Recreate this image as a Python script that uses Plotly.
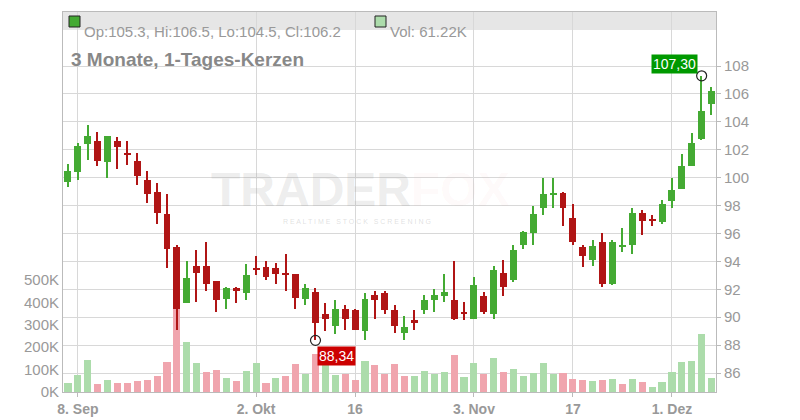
import plotly.graph_objects as go

opens  = [99.7,100.4,102.4,102.6,101.1,102.6,101.8,101.2,99.8,99.0,97.4,95.0,91.0,93.7,93.7,92.6,91.3,92.1,91.7,93.5,93.6,93.5,93.2,93.1,91.3,91.8,90.2,89.4,90.6,90.5,89.0,91.6,91.7,90.5,88.9,89.8,90.5,91.2,91.5,91.2,90.4,89.9,91.5,90.2,93.2,92.7,95.2,96.0,97.8,98.8,98.9,97.1,95.0,94.1,95.4,92.4,95.1,95.2,97.5,97.0,96.8,98.3,99.2,100.8,102.8,105.3]
highs  = [101.0,102.5,103.8,103.3,103.0,102.9,102.6,101.8,100.5,99.6,98.8,95.2,94.0,94.8,95.4,92.6,92.2,92.2,93.8,94.4,94.0,93.9,94.5,93.1,92.4,92.1,91.0,91.2,90.9,90.6,91.7,91.9,91.9,90.9,90.1,90.5,91.6,92.0,93.1,94.0,91.1,92.9,91.8,93.7,94.1,95.2,96.2,98.0,100.0,100.0,99.0,98.1,95.2,95.5,96.0,95.5,96.4,97.8,97.7,97.3,98.4,100.0,101.7,103.2,107.3,106.5]
lows   = [99.3,99.8,101.3,100.8,100.0,100.6,100.9,99.5,98.2,96.7,93.5,89.1,91.0,91.1,91.9,90.4,90.6,91.0,91.2,93.0,92.7,92.4,91.9,90.6,90.9,88.34,89.0,88.8,89.1,89.1,88.4,89.9,90.2,88.9,88.4,89.1,90.2,90.4,91.1,89.8,89.8,89.9,90.2,89.9,91.5,92.5,94.9,95.2,97.3,97.8,96.5,95.2,93.6,93.7,92.2,92.3,94.7,94.5,95.9,96.5,96.7,97.8,99.2,100.8,102.7,104.5]
closes = [100.5,102.3,103.0,101.2,103.0,102.2,101.6,100.1,98.8,97.5,94.9,90.6,92.8,93.2,92.4,91.2,92.1,91.9,93.0,93.4,92.9,93.1,93.05,91.4,92.1,89.6,89.9,90.6,89.9,89.1,91.3,91.2,90.5,89.4,89.3,89.6,91.2,91.6,91.8,89.9,90.2,92.3,90.4,93.4,92.2,94.8,96.1,97.4,98.8,98.9,97.8,95.4,94.4,95.1,92.4,95.4,95.2,97.5,96.9,96.9,98.1,99.1,100.8,102.5,104.8,106.2]
volumes_k = [42,77,143,37,54,42,42,49,54,73,134,375,223,129,89,98,63,49,94,129,40,63,73,125,82,170,130,77,82,54,138,120,82,125,73,73,94,82,91,165,68,129,82,153,91,104,73,86,129,82,86,59,54,50,54,59,37,59,46,24,46,91,135,139,260,61]
tick_idx = [1,19,29,41,51,61]
tick_labels = ["8. Sep","2. Okt","16","3. Nov","17","1. Dez"]
price_ticks = [86,88,90,92,94,96,98,100,102,104,106,108]
vol_ticks = [0,100,200,300,400,500]

G, R = "#44aa33", "#b01515"
VG, VR = "#acdcab", "#f0a5ae"
n = len(closes)
x = list(range(n))
vcol = [VG if i == 0 or closes[i] >= closes[i-1] else VR for i in range(n)]
up = [c >= o for o, c in zip(opens, closes)]
ccol = [G if u else R for u in up]
base = [min(o, c) for o, c in zip(opens, closes)]
hgt = [max(abs(c - o), 0.08) for o, c in zip(opens, closes)]

fig = go.Figure()
fig.add_trace(go.Bar(x=x, y=volumes_k, marker_color=vcol, marker_line_width=0, width=0.72, yaxis="y", hoverinfo="skip"))
fig.add_trace(go.Bar(x=x, y=[h - l for h, l in zip(highs, lows)], base=lows, width=0.14,
                     marker_color=ccol, marker_line_width=0, yaxis="y2", hoverinfo="skip"))
fig.add_trace(go.Bar(x=x, y=hgt, base=base, width=0.7, marker_color=ccol, marker_line_width=0, yaxis="y2", hoverinfo="skip"))
ih = highs.index(max(highs)); il = lows.index(min(lows))
fig.add_trace(go.Scatter(x=[ih, il], y=[highs[ih], lows[il]], mode="markers", yaxis="y2",
                         marker=dict(size=10, color="rgba(0,0,0,0)", line=dict(color="#222", width=1.2))))

fig.update_layout(
    width=800, height=420, showlegend=False, barmode="overlay", bargap=0,
    margin=dict(l=63, r=84, t=12, b=28, autoexpand=False),
    plot_bgcolor="white", paper_bgcolor="white",
    font=dict(family="Liberation Sans, Arial", color="#999"),
    xaxis=dict(range=[-0.5, 65.45], tickvals=tick_idx, ticktext=[f"<b>{t}</b>" for t in tick_labels], showgrid=True,
               gridcolor="#d8d8d8", zeroline=False, showline=True, linecolor="#bbb", mirror=True,
               ticks="outside", ticklen=4, tickcolor="#bbb", automargin=False,
               tickfont=dict(size=14, color="#999")),
    yaxis=dict(range=[0, 1696], tickvals=vol_ticks, ticktext=[f"{v}K" for v in vol_ticks], automargin=False,
               showgrid=False, zeroline=False, side="left", tickfont=dict(size=15, color="#999"), ticks="",
               showline=True, linecolor="#bbb"),
    yaxis2=dict(range=[84.64, 111.87], overlaying="y", side="right", tickvals=price_ticks, automargin=False,
                showgrid=True, gridcolor="#d8d8d8", zeroline=False, showline=True, linecolor="#bbb",
                ticks="outside", ticklen=4, tickcolor="#bbb", tickfont=dict(size=15, color="#999")),
)
fig.add_shape(type="rect", xref="paper", yref="paper", x0=0, x1=1, y0=(392-30)/380, y1=1,
              fillcolor="#e6e6e6", line_width=0, layer="below")
fig.add_shape(type="rect", xref="paper", yref="paper", x0=6/653, x1=17/653, y0=(392-27)/380, y1=(392-16)/380,
              fillcolor=G, line=dict(color="#222", width=1))
fig.add_shape(type="rect", xref="paper", yref="paper", x0=312/653, x1=323/653, y0=(392-27)/380, y1=(392-16)/380,
              fillcolor=VG, line=dict(color="#222", width=1))
fig.add_annotation(xref="paper", yref="paper", x=19/653, y=(392-21)/380, xanchor="left", showarrow=False,
                   text="Op:105.3, Hi:106.5, Lo:104.5, Cl:106.2", font=dict(size=15, color="#999"))
fig.add_annotation(xref="paper", yref="paper", x=325/653, y=(392-21)/380, xanchor="left", showarrow=False,
                   text="Vol: 61.22K", font=dict(size=15, color="#999"))
fig.add_annotation(xref="paper", yref="paper", x=6/653, y=(392-47)/380, xanchor="left", showarrow=False,
                   text="<b>3 Monate, 1-Tages-Kerzen</b>", font=dict(size=19, color="#888"))
fig.add_annotation(xref="paper", yref="paper", x=0.455, y=(392-189)/380, showarrow=False,
                   text="<b>TRADER<span style='color:rgba(240,120,120,0.22)'>FOX</span></b>",
                   font=dict(size=48, color="rgba(150,150,150,0.18)"))
fig.add_annotation(xref="paper", yref="paper", x=0.45, y=(392-222)/380, showarrow=False,
                   text="R E A L T I M E   S T O C K   S C R E E N I N G", font=dict(size=7, color="rgba(150,150,150,0.3)"))
fig.add_annotation(x=ih, y=highs[ih], yref="y2", text="107,30", showarrow=False, xanchor="right",
                   yanchor="bottom", xshift=-4, yshift=2, bgcolor="#009900", font=dict(color="white", size=14), borderpad=1)
fig.add_annotation(x=il, y=lows[il], yref="y2", text="88,34", showarrow=False, xanchor="left",
                   yanchor="top", xshift=2, yshift=-6, bgcolor="#cc0000", font=dict(color="white", size=14), borderpad=1)
fig.write_html("out.html", config={"displayModeBar": False})
with open("out.html", encoding="utf-8") as f:
    html = f.read()
html = html.replace("<head>", "<head><style>html,body{margin:0;padding:0;overflow:hidden;}</style>", 1)
with open("out.html", "w", encoding="utf-8") as f:
    f.write(html)
